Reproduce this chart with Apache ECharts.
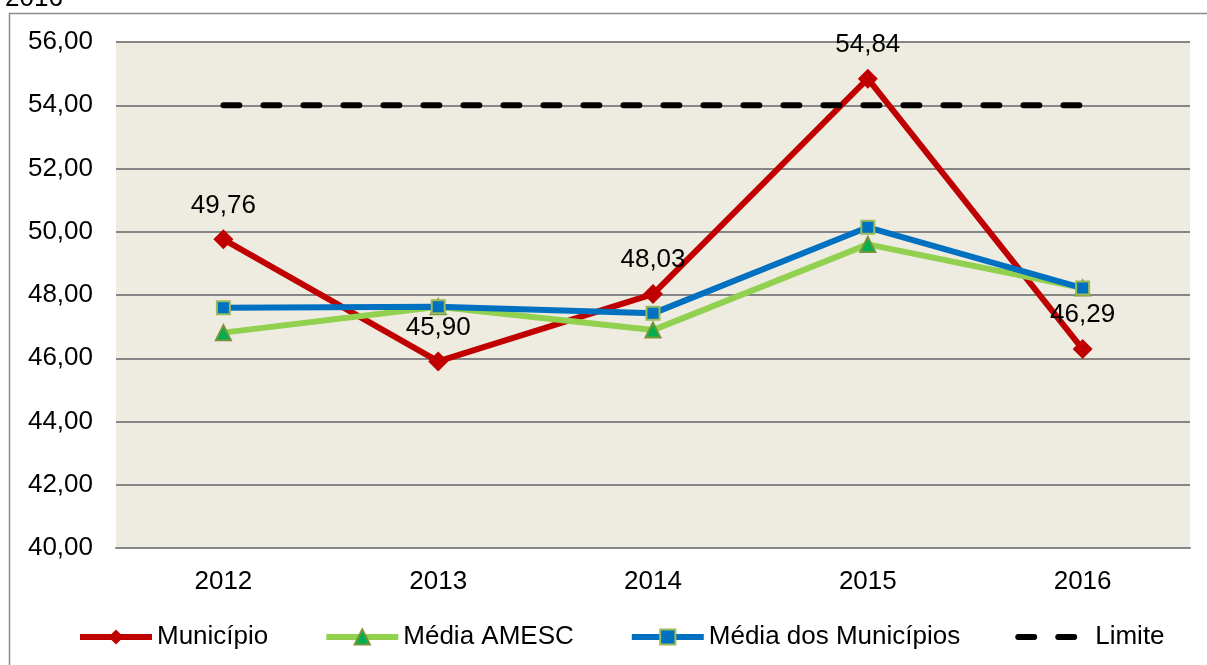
<!DOCTYPE html>
<html>
<head>
<meta charset="utf-8">
<script src="https://cdn.jsdelivr.net/npm/echarts@6/dist/echarts.min.js"></script>
<style>
html,body{margin:0;padding:0;background:#fff;}
#chart{width:1207px;height:665px;}
</style>
</head>
<body>
<div id="chart"></div>
<script>
const categories = ['2012', '2013', '2014', '2015', '2016'];
const municipio = [49.76, 45.90, 48.03, 54.84, 46.29];
const mediaAmesc = [46.81, 47.63, 46.89, 49.60, 48.22];
const mediaMunicipios = [47.60, 47.63, 47.42, 50.14, 48.22];
const limite = [54, 54, 54, 54, 54];
const yMin = 40, yMax = 56, yStep = 2;

const FONT = '"Liberation Sans", Arial, sans-serif';
const FS = 26;
const fmt = v => Number(v).toFixed(2).replace('.', ',');

const chart = echarts.init(document.getElementById('chart'), null, {renderer: 'canvas'});
chart.setOption({
  animation: false,
  backgroundColor: '#ffffff',
  textStyle: {fontFamily: FONT},
  graphic: [
    {type: 'rect', z: -10, silent: true,
     shape: {x: 9.5, y: 13.5, width: 1220, height: 680},
     style: {fill: 'none', stroke: '#8c8c8c', lineWidth: 1.5}},
    {type: 'text', x: 5, y: 12, silent: true,
     style: {text: '2016', font: FS + 'px ' + FONT, fill: '#000', verticalAlign: 'bottom', lineHeight: FS}}
  ],
  grid: {left: 116, right: 17, top: 42, bottom: 117, show: true, backgroundColor: '#EEEBE0', borderWidth: 0},
  legend: {
    left: 77, top: 624, padding: 0,
    itemWidth: 72, itemHeight: 19, itemGap: 55,
    lineStyle: {width: 'inherit'},
    textStyle: {fontSize: FS, color: '#000', fontFamily: FONT},
    data: ['Município', 'Média AMESC', 'Média dos Municípios',
           {name: 'Limite', itemStyle: {opacity: 0}}]
  },
  xAxis: {
    type: 'category', data: categories, boundaryGap: true,
    axisLine: {show: true, lineStyle: {color: '#868686', width: 2}},
    axisTick: {show: false},
    axisLabel: {color: '#000', fontSize: FS, fontFamily: FONT, margin: 21}
  },
  yAxis: {
    type: 'value', min: yMin, max: yMax, interval: yStep,
    axisLine: {show: false}, axisTick: {show: false},
    axisLabel: {color: '#000', fontSize: FS, fontFamily: FONT, margin: 23, formatter: fmt},
    splitLine: {lineStyle: {color: '#868686', width: 2}}
  },
  series: [
    {name: 'Município', type: 'line', data: municipio,
     lineStyle: {color: '#C00000', width: 6},
     itemStyle: {color: '#C00000'},
     symbol: 'diamond', symbolSize: 20,
     label: {show: true, position: 'top', distance: 11, color: '#000', fontSize: FS, fontFamily: FONT,
             formatter: p => fmt(p.value)}},
    {name: 'Média AMESC', type: 'line', data: mediaAmesc,
     lineStyle: {color: '#92D050', width: 6},
     itemStyle: {color: '#00B050', borderColor: '#77933C', borderWidth: 2},
     symbol: 'triangle', symbolSize: 15},
    {name: 'Média dos Municípios', type: 'line', data: mediaMunicipios,
     lineStyle: {color: '#0070C0', width: 6},
     itemStyle: {color: '#0070C0', borderColor: '#9BBB59', borderWidth: 2},
     symbol: 'rect', symbolSize: 13},
    {name: 'Limite', type: 'line', data: limite,
     lineStyle: {color: '#000', width: 6, type: [16, 24], cap: 'round'},
     itemStyle: {color: '#000'},
     symbol: 'none'}
  ]
});
</script>
</body>
</html>
